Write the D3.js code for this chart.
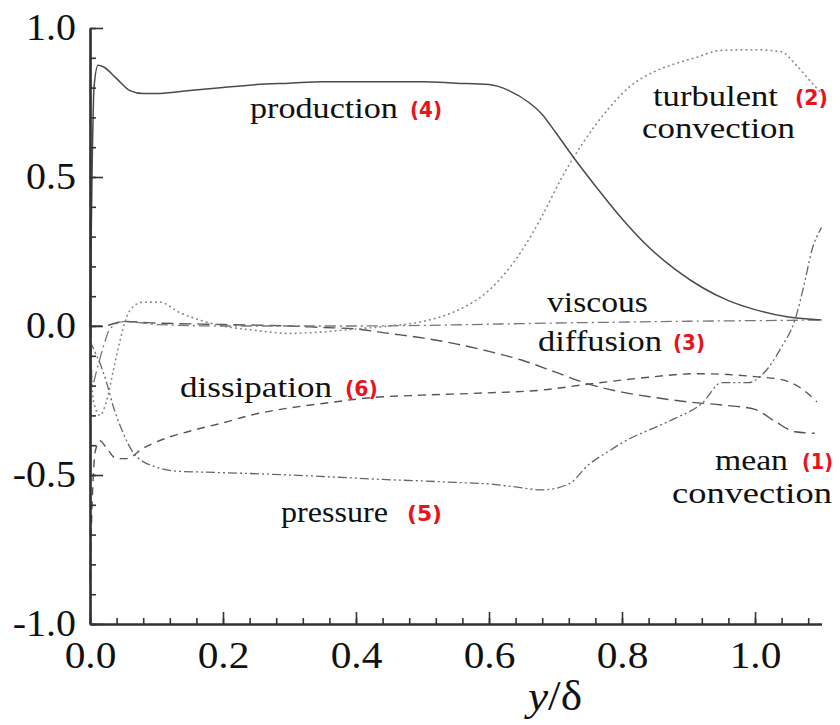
<!DOCTYPE html>
<html>
<head>
<meta charset="utf-8">
<script src="https://cdn.jsdelivr.net/npm/d3@7"></script>
<style>
  html, body { margin: 0; padding: 0; background: #fff; }
  svg { display: block; }
</style>
</head>
<body>
<svg id="chart" width="840" height="725"></svg>
<script>
// ---------------- data ----------------
const xTicks = [0.0, 0.2, 0.4, 0.6, 0.8, 1.0];
const yTicks = [-1.0, -0.5, 0.0, 0.5, 1.0];

// mean convection (1) – long dashed
const meanConvection = [
  [0,0],[0.02,0.0],[0.05,0.015],[0.1,0.01],[0.2,0.005],[0.3,0.0],[0.35,-0.005],
  [0.4,-0.01],[0.45,-0.025],[0.5,-0.04],[0.55,-0.06],[0.6,-0.085],[0.65,-0.115],
  [0.7,-0.155],[0.75,-0.195],[0.8,-0.222],[0.85,-0.24],[0.9,-0.255],[0.95,-0.265],
  [1.0,-0.28],[1.03,-0.32],[1.06,-0.355],[1.09,-0.36]
];
// turbulent convection (2) – dotted
const turbulentConvection = [
  [0,0],[0.005,-0.25],[0.015,-0.3],[0.025,-0.25],[0.035,-0.15],[0.045,-0.05],
  [0.055,0.03],[0.065,0.065],[0.08,0.08],[0.105,0.08],[0.135,0.045],[0.165,0.02],
  [0.2,0.0],[0.25,-0.015],[0.3,-0.025],[0.35,-0.02],[0.4,-0.01],[0.45,0.0],
  [0.5,0.015],[0.55,0.05],[0.6,0.12],[0.65,0.255],[0.68,0.37],[0.71,0.5],
  [0.74,0.61],[0.78,0.73],[0.81,0.80],[0.85,0.855],[0.88,0.88],[0.91,0.9],
  [0.95,0.925],[1.0,0.927],[1.04,0.92],[1.06,0.88],[1.08,0.83],[1.1,0.78]
];
// viscous diffusion (3) – dash-dot
const viscousDiffusion = [
  [0,0.35],[0.003,-0.2],[0.01,-0.15],[0.02,-0.07],[0.03,-0.01],[0.05,0.015],
  [0.08,0.01],[0.1,0.005],[0.2,0.0],[0.3,0.0],[0.4,0.0],[0.5,0.002],[0.6,0.006],
  [0.7,0.01],[0.8,0.013],[0.9,0.016],[1.0,0.018],[1.1,0.02]
];
// production (4) – solid
const production = [
  [0,0.0],[0.003,0.5],[0.006,0.8],[0.012,0.875],[0.02,0.87],[0.04,0.83],
  [0.06,0.79],[0.08,0.78],[0.1,0.78],[0.15,0.79],[0.2,0.80],[0.25,0.81],
  [0.3,0.815],[0.35,0.82],[0.4,0.82],[0.45,0.82],[0.5,0.82],[0.55,0.815],
  [0.6,0.81],[0.63,0.79],[0.66,0.75],[0.68,0.71],[0.7,0.65],[0.73,0.557],
  [0.76,0.47],[0.8,0.36],[0.84,0.265],[0.88,0.19],[0.92,0.13],[0.96,0.085],
  [1.0,0.055],[1.05,0.03],[1.1,0.02]
];
// pressure (5) – dash-dot-dot
const pressure = [
  [0,-0.05],[0.01,-0.1],[0.015,-0.125],[0.025,-0.19],[0.035,-0.27],[0.05,-0.36],
  [0.065,-0.425],[0.08,-0.455],[0.095,-0.47],[0.135,-0.488],[0.165,-0.49],
  [0.24,-0.495],[0.3,-0.5],[0.35,-0.505],[0.44,-0.515],[0.5,-0.52],[0.55,-0.525],
  [0.6,-0.53],[0.64,-0.54],[0.68,-0.55],[0.72,-0.53],[0.75,-0.465],[0.78,-0.42],
  [0.81,-0.38],[0.85,-0.34],[0.88,-0.31],[0.92,-0.26],[0.95,-0.19],[0.99,-0.19],
  [1.01,-0.165],[1.04,-0.07],[1.06,0.02],[1.075,0.15],[1.085,0.25],[1.1,0.33]
];
// dissipation (6) – dashed
const dissipation = [
  [0,-0.85],[0.004,-0.55],[0.008,-0.42],[0.015,-0.385],[0.025,-0.41],[0.04,-0.445],
  [0.055,-0.445],[0.08,-0.41],[0.11,-0.38],[0.155,-0.35],[0.2,-0.325],[0.24,-0.30],
  [0.3,-0.275],[0.35,-0.26],[0.425,-0.24],[0.5,-0.232],[0.59,-0.225],[0.68,-0.215],
  [0.75,-0.195],[0.827,-0.175],[0.913,-0.16],[0.96,-0.163],[1.0,-0.17],
  [1.04,-0.18],[1.07,-0.21],[1.093,-0.255]
];

const seriesNames = ["mean convection","turbulent convection","viscous diffusion","production","pressure","dissipation"];
const seriesData  = [meanConvection, turbulentConvection, viscousDiffusion, production, pressure, dissipation];

// ---------------- layout ----------------
const SERIF = '"Liberation Serif"';
const SANS_BOLD = '"DejaVu Sans"';

const svg = d3.select("#chart");
const x = d3.scaleLinear().domain([0, 1.1]).range([90, 821.5]);
const y = d3.scaleLinear().domain([-1, 1]).range([624, 28]);

const styles = [
  {dash: "12,6",              color: "#555", width: 1.4, cap: "butt"},   // mean convection
  {dash: "0.5,4.5",           color: "#8a8a8a", width: 1.7, cap: "round"}, // turbulent
  {dash: "11,4,2,4",          color: "#777", width: 1.3, cap: "butt"},   // viscous
  {dash: null,                color: "#4a4a4a", width: 1.5, cap: "butt"}, // production
  {dash: "9,3,2,3,2,3",       color: "#666", width: 1.3, cap: "butt"},   // pressure
  {dash: "8,6",               color: "#555", width: 1.4, cap: "butt"}    // dissipation
];

const line = d3.line().x(d => x(d[0])).y(d => y(d[1])).curve(d3.curveMonotoneX);

svg.append("g").selectAll("path")
  .data(seriesData)
  .join("path")
  .attr("d", d => line(d))
  .attr("fill", "none")
  .attr("stroke", (d, i) => styles[i].color)
  .attr("stroke-width", (d, i) => styles[i].width)
  .attr("stroke-linecap", (d, i) => styles[i].cap)
  .attr("stroke-dasharray", (d, i) => styles[i].dash);

// ---------------- axes ----------------
const fmt = d => d.toFixed(1);   // hyphen-minus like the reference

const xMinor = svg.append("g").attr("transform", `translate(0,${y(-1)})`)
  .call(d3.axisBottom(x).tickValues(d3.range(0, 1.1001, 0.04)).tickSizeInner(-6).tickSizeOuter(0).tickFormat(""));
const yMinor = svg.append("g").attr("transform", `translate(${x(0)},0)`)
  .call(d3.axisLeft(y).tickValues(d3.range(-10, 11, 1).map(v => v / 10)).tickSizeInner(-6).tickSizeOuter(0).tickFormat(""));

const xAxis = svg.append("g").attr("transform", `translate(0,${y(-1)})`)
  .call(d3.axisBottom(x).tickValues(xTicks).tickSizeInner(-12).tickSizeOuter(0).tickPadding(17).tickFormat(fmt));
const yAxis = svg.append("g").attr("transform", `translate(${x(0)},0)`)
  .call(d3.axisLeft(y).tickValues(yTicks).tickSizeInner(-13).tickSizeOuter(0).tickPadding(13).tickFormat(fmt));

[xMinor, yMinor, xAxis, yAxis].forEach(g => {
  g.attr("font-family", null).attr("font-size", null);
  g.selectAll("path.domain").attr("stroke", "#333").attr("stroke-width", 2.2);
  g.selectAll(".tick line").attr("stroke", "#333").attr("stroke-width", 1.6);
});
xAxis.selectAll("text").style("font-family", SERIF).attr("font-size", 38).attr("fill", "#111")
  .attr("transform", "scale(1.09,1)");
yAxis.selectAll("text").style("font-family", SERIF).attr("font-size", 37).attr("fill", "#111")
  .attr("transform", "scale(1.08,1)");

// x-axis title
const xt = svg.append("text").style("font-family", SERIF)
  .attr("transform", "translate(555,710) scale(1.08,1)").attr("text-anchor", "middle")
  .attr("font-size", 42).attr("fill", "#111");
xt.append("tspan").attr("font-style", "italic").text("y");
xt.append("tspan").text("/δ");

// ---------------- curve labels ----------------
const labelWords = [
  {t: "production",  x: 250, y: 118, w: 148},
  {t: "turbulent",   x: 653, y: 106, w: 125},
  {t: "convection",  x: 642, y: 138, w: 153},
  {t: "viscous",     x: 547, y: 312, w: 101},
  {t: "diffusion",   x: 538, y: 351, w: 124},
  {t: "dissipation", x: 180, y: 397, w: 152},
  {t: "mean",        x: 715, y: 470, w: 73},
  {t: "convection",  x: 672, y: 503, w: 160},
  {t: "pressure",    x: 281, y: 522, w: 107}
];
const labelNums = [
  {t: "(4)", x: 410, y: 118, w: 32},
  {t: "(2)", x: 795, y: 106, w: 33},
  {t: "(3)", x: 673, y: 351, w: 32},
  {t: "(6)", x: 345, y: 397, w: 33},
  {t: "(1)", x: 802, y: 470, w: 31},
  {t: "(5)", x: 407, y: 522, w: 35}
];

// stretch each label horizontally to the width measured in the reference
function fitWidth(sel) {
  sel.each(function(d) {
    const nat = this.getComputedTextLength() || d.w;
    const sx = Math.max(0.7, Math.min(1.4, d.w / nat));
    d3.select(this).attr("transform", `translate(${d.x},${d.y}) scale(${sx},1)`);
  });
}

svg.append("g").selectAll("text").data(labelWords).join("text")
  .style("font-family", SERIF)
  .attr("font-size", 30).attr("fill", "#111")
  .text(d => d.t)
  .call(fitWidth);

svg.append("g").selectAll("text").data(labelNums).join("text")
  .style("font-family", SANS_BOLD).attr("font-weight", "bold")
  .attr("font-size", 21).attr("fill", "#e8141b")
  .text(d => d.t)
  .each(function(d) { d.y = d.y - 1; })
  .call(fitWidth);
</script>
</body>
</html>
